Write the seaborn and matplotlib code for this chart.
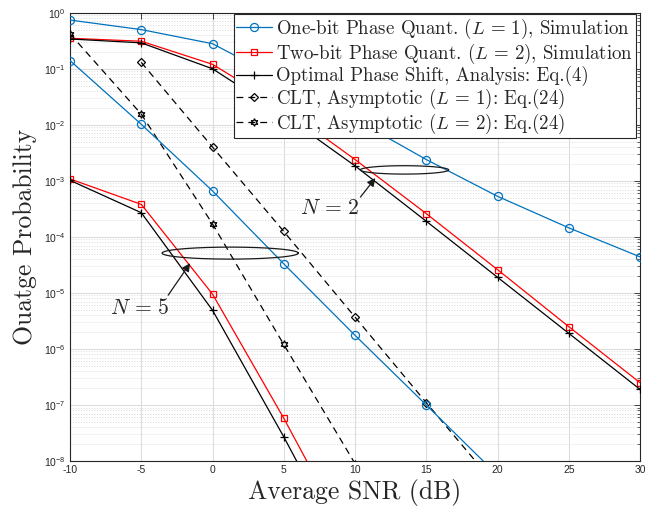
import numpy as np
import pandas as pd
import matplotlib
matplotlib.use("Agg")
import matplotlib.pyplot as plt
import seaborn as sns
from matplotlib.lines import Line2D
from matplotlib.ticker import LogLocator, NullLocator, NullFormatter, FixedLocator

# ---- data: outage probability vs. average SNR (dB) ----
snr = [-10, -5, 0, 5, 10, 15, 20, 25, 30]

# N = 2 reflecting elements
one_bit_n2 = [0.74, 0.50, 0.28, 0.06, 0.0125, 2.4e-3, 5.3e-4, 1.45e-4, 4.4e-5]
two_bit_n2 = [0.35, 0.31, 0.12, 0.02, 2.4e-3, 2.6e-4, 2.6e-5, 2.5e-6, 2.5e-7]
optimal_n2 = [0.34, 0.29, 0.10, 0.015, 1.85e-3, 1.9e-4, 1.9e-5, 1.9e-6, 1.9e-7]
snr_clt1_n2 = [-5, 0, 5, 10, 15, 20]
clt1_n2 = [0.13, 4.0e-3, 1.25e-4, 3.7e-6, 1.1e-7, 3.4e-9]
snr_clt2_n2 = [-10, -5, 0, 5, 10]
clt2_n2 = [0.42, 0.0155, 1.7e-4, 1.2e-6, 9.0e-9]

# N = 5 reflecting elements
snr_one_n5 = [-10, -5, 0, 5, 10, 15, 20]
one_bit_n5 = [0.14, 0.0102, 6.6e-4, 3.3e-5, 1.75e-6, 1.0e-7, 5.6e-9]
snr_two_n5 = [-10, -5, 0, 5, 10]
two_bit_n5 = [1.08e-3, 3.8e-4, 9.5e-6, 5.8e-8, 2.5e-10]
optimal_n5 = [1.02e-3, 2.7e-4, 4.9e-6, 2.7e-8, 1.1e-10]

legend_labels = [
    r"One-bit Phase Quant. $(L\,=\,1)$, Simulation",
    r"Two-bit Phase Quant. $(L\,=\,2)$, Simulation",
    r"Optimal Phase Shift, Analysis: Eq.(4)",
    r"CLT, Asymptotic $(L\,=\,1)$: Eq.(24)",
    r"CLT, Asymptotic $(L\,=\,2)$: Eq.(24)",
]
x_ticks = [-10, -5, 0, 5, 10, 15, 20, 25, 30]

# ---- styling ----
sns.set_theme(style="white")
plt.rcParams.update({
    "font.family": ["Liberation Sans", "DejaVu Sans"],
    "mathtext.fontset": "cm",
    "axes.unicode_minus": False,
})

BLUE = "#0072BD"
RED = "#FF0000"
BLACK = "#000000"
LW = 0.9
DASH = (0, (5.5, 4))
HEX = (6, 1, 0)  # six-pointed star marker

styles = {
    "one": dict(color=BLUE, marker="o", markersize=5.8, linestyle="-"),
    "two": dict(color=RED, marker="s", markersize=4.6, linestyle="-"),
    "opt": dict(color=BLACK, marker="+", markersize=5.5, linestyle="-"),
    "clt1": dict(color=BLACK, marker="D", markersize=4.2, linestyle=DASH),
    "clt2": dict(color=BLACK, marker=HEX, markersize=5.5, linestyle=DASH),
}

fig = plt.figure(figsize=(6.6, 5.09), dpi=100)
ax = fig.add_axes([0.1061, 0.0943, 0.8636, 0.8807])


def draw(x, y, key):
    st = styles[key]
    sns.lineplot(
        x=x, y=y, ax=ax, color=st["color"], marker=st["marker"],
        markersize=st["markersize"], linestyle=st["linestyle"], linewidth=LW,
        markerfacecolor="none", markeredgecolor=st["color"],
        markeredgewidth=0.9, zorder=3,
    )


draw(snr, one_bit_n2, "one")
draw(snr, two_bit_n2, "two")
draw(snr, optimal_n2, "opt")
draw(snr_clt1_n2, clt1_n2, "clt1")
draw(snr_clt2_n2, clt2_n2, "clt2")
draw(snr_one_n5, one_bit_n5, "one")
draw(snr_two_n5, two_bit_n5, "two")
draw(snr_two_n5, optimal_n5, "opt")

# ---- axes ----
ax.set_yscale("log")
ax.set_xlim(-10, 30)
ax.set_ylim(1e-8, 1)
ax.xaxis.set_major_locator(FixedLocator(x_ticks))
ax.xaxis.set_minor_locator(NullLocator())
ax.yaxis.set_major_locator(LogLocator(base=10, numticks=20))
ax.yaxis.set_minor_locator(LogLocator(base=10, subs=np.arange(2, 10), numticks=100))
ax.yaxis.set_minor_formatter(NullFormatter())

ax.grid(which="major", color="#dcdcdc", linewidth=0.8, linestyle="-", zorder=0)
ax.grid(which="minor", axis="y", color="#cccccc", linewidth=0.6,
        linestyle=(0, (1, 2.2)), zorder=0)
ax.set_axisbelow(True)

for sp in ax.spines.values():
    sp.set_color("#262626")
    sp.set_linewidth(0.8)
ax.tick_params(which="both", direction="in", top=True, right=True,
               colors="#262626", labelsize=7.5, pad=3)
ax.tick_params(which="major", length=4, width=0.6)
ax.tick_params(which="minor", length=2.2, width=0.5)
for lab in ax.get_xticklabels() + ax.get_yticklabels():
    lab.set_color("#262626")

ax.set_xlabel("Average SNR (dB)", fontsize=18.5, family="cmr10", labelpad=3,
              color="#262626")
ax.set_ylabel("Ouatge Probability", fontsize=18.5, family="cmr10", labelpad=5,
              color="#262626")

# ---- legend ----
handles = []
for key, lab in zip(["one", "two", "opt", "clt1", "clt2"], legend_labels):
    st = styles[key]
    handles.append(Line2D([], [], color=st["color"], marker=st["marker"],
                          markersize=st["markersize"], linestyle=st["linestyle"],
                          linewidth=LW, markerfacecolor="none",
                          markeredgecolor=st["color"], markeredgewidth=0.9,
                          label=lab))
leg = ax.legend(handles=handles, loc="upper right", bbox_to_anchor=(0.9935, 0.997),
                borderaxespad=0.0, frameon=True, fancybox=False, framealpha=1,
                edgecolor="#262626", prop={"family": "cmr10", "size": 13.6},
                handlelength=1.9, handletextpad=0.22, labelspacing=0.02,
                borderpad=0.15)
leg.get_frame().set_linewidth(0.8)

# ---- annotations: group ellipses and arrows ----
t = np.linspace(0, 2 * np.pi, 300)


def group_ellipse(cx, cy_log, half_w, half_h_log):
    ax.plot(cx + half_w * np.cos(t), 10 ** (cy_log + half_h_log * np.sin(t)),
            color="k", linewidth=LW, zorder=4)


group_ellipse(13.47, -2.805, 3.1, 0.075)
group_ellipse(1.24, -4.29, 4.78, 0.107)

arrow_kw = dict(arrowstyle="-|>", color="k", lw=0.9, mutation_scale=12,
                shrinkA=0, shrinkB=0)
ax.annotate("", xy=(11.43, 10 ** -2.95), xytext=(10.38, 10 ** -3.29),
            arrowprops=arrow_kw, zorder=5)
ax.annotate("", xy=(-1.57, 10 ** -4.47), xytext=(-3.11, 10 ** -5.04),
            arrowprops=arrow_kw, zorder=5)
ax.text(8.2, 10 ** -3.49, r"$N\,=\,2$", fontsize=15.5, ha="center", va="center")
ax.text(-5.08, 10 ** -5.27, r"$N\,=\,5$", fontsize=15.5, ha="center", va="center")

fig.savefig("out.png", dpi=100)
